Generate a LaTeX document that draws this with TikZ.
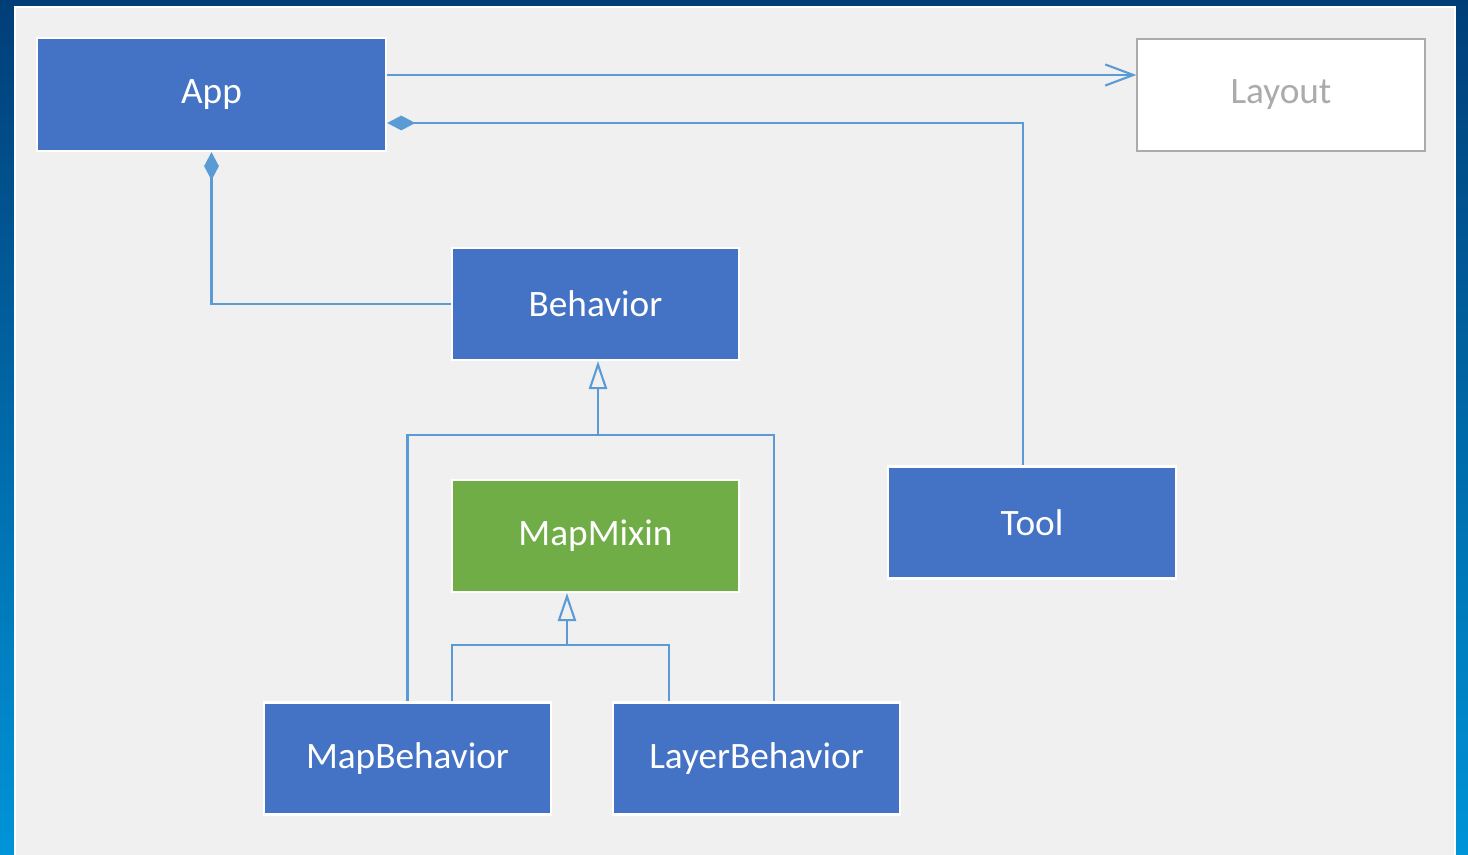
\documentclass[tikz,border=0pt]{standalone}
\usepackage{fontspec}
\setmainfont{Carlito}
\usepackage{xcolor}
\usepackage{tikz}
\usetikzlibrary{arrows.meta}

\definecolor{bgtop}{HTML}{013E78}
\definecolor{bgbot}{HTML}{0094D8}
\definecolor{panelgray}{HTML}{F0F0F0}
\definecolor{boxblue}{HTML}{4472C4}
\definecolor{mixgreen}{HTML}{70AD47}
\definecolor{linkblue}{HTML}{5B9BD5}
\definecolor{framegray}{HTML}{ABABAB}

\begin{document}
\begin{tikzpicture}[x=0.01cm, y=-0.01cm,
    cls/.style={draw=white, line width=0.6pt, fill=boxblue, text=white,
        minimum width=2.87cm, minimum height=1.12cm, inner sep=0pt,
        font=\fontsize{10.6}{12}\selectfont},
    link/.style={draw=linkblue, line width=0.6pt},
    comp/.style={{Diamond[length=8pt, width=4.2pt, fill=linkblue]}-},
    inherit/.style={-{Triangle[open, length=8pt, width=5.2pt, fill=panelgray]}}]
    \useasboundingbox (0,0) rectangle (1468,855);
    \clip (0,0) rectangle (1468,855);
    \shade[top color=bgtop, bottom color=bgbot] (0,0) rectangle (1468,855);
    \draw[white, line width=0.6pt, fill=panelgray] (15,7) rectangle (1455,880);

    % classes
    \node[cls, minimum width=3.49cm, minimum height=1.13cm] (app) at (211.5,94.5) {App};
    \node[cls, fill=white, draw=framegray, text=framegray] (layout) at (1281,95) {Layout};
    \node[cls] (behavior) at (595.5,304) {Behavior};
    \node[cls, fill=mixgreen] (mapmixin) at (595.5,536) {MapMixin};
    \node[cls] (tool) at (1032,522.5) {Tool};
    \node[cls] (mapbeh) at (407.5,758.5) {MapBehavior};
    \node[cls] (layerbeh) at (756.5,758.5) {LayerBehavior};

    % junctions
    \coordinate (bjoin) at (598,435);
    \coordinate (mjoin) at (567,645);

    % associations
    \draw[link, -{Straight Barb[length=8pt, width=6pt]}] (app.east |- 0,75) -- (layout.west |- 0,75);
    \draw[link, comp] (app.east |- 0,123) -| (tool.north -| 1023,0);
    \draw[link, comp] (app.south) |- (behavior.west);

    % inheritance
    \draw[link] (mapbeh.north) |- (bjoin) -| (layerbeh.north -| 774,0);
    \draw[link, inherit] (bjoin) -- (behavior.south -| bjoin);
    \draw[link] (mapbeh.north -| 452,0) |- (mjoin) -| (layerbeh.north -| 669,0);
    \draw[link, inherit] (mjoin) -- (mapmixin.south -| mjoin);
\end{tikzpicture}
\end{document}
